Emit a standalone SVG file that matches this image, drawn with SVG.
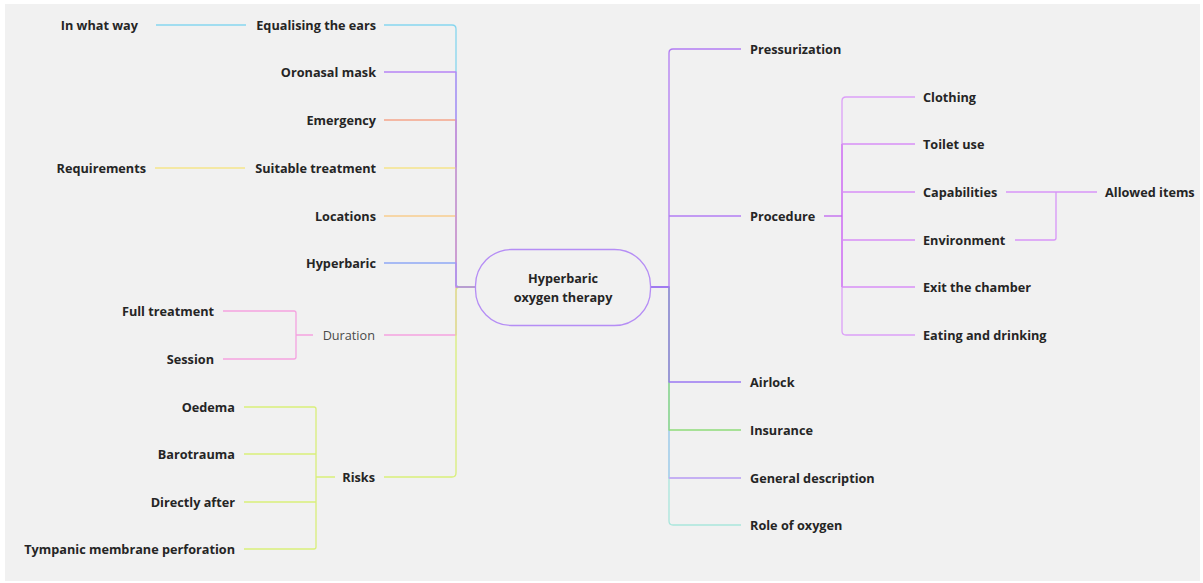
<svg xmlns="http://www.w3.org/2000/svg" width="1203" height="583" viewBox="0 0 1203 583">
<style>
.t{font-family:"Open Sans","Noto Sans","Liberation Sans",sans-serif;font-size:12.7px;font-weight:700;fill:#252525}
.e{text-anchor:end}
.r{font-weight:400;fill:#4a4a4a}
.c{text-anchor:middle}
.l{fill:none;stroke-width:1.3;stroke-linejoin:round}
</style>
<rect x="0" y="0" width="1203" height="583" fill="#ffffff"/>
<rect x="5" y="4" width="1195" height="577" fill="#f1f1f1"/>
<g id="connectors">
  <!-- left main branches -->
  <path class="l" stroke="#86d6ef" d="M475 287 H460 Q456 287 456 283 V29 Q456 25 452 25 H384"/>
  <path class="l" stroke="#f5a58a" d="M475 287 H456 V120 H384"/>
  <path class="l" stroke="#f5e48a" d="M475 287 H456 V168 H384"/>
  <path class="l" stroke="#f7cd8f" d="M475 287 H456 V216 H384"/>
  <path class="l" stroke="#8fa8f5" d="M475 287 H456 V263 H384"/>
  <path class="l" stroke="#b784f5" d="M475 287 H456 V72 H384"/>
  <path class="l" stroke="#f5a3e0" d="M475 287 H456 V335 H384"/>
  <path class="l" stroke="#d9ef7a" d="M475 287 H460 Q456 287 456 291 V473 Q456 477 452 477 H384"/>
  <path class="l" stroke="#a57ef3" d="M456 287 H475"/>
  <!-- left second level -->
  <path class="l" stroke="#86d6ef" d="M246 25 H156"/>
  <path class="l" stroke="#f5e48a" d="M245 168 H155"/>
  <path class="l" stroke="#f5a3e0" d="M313 335 H296 M223 311 H294 Q296 311 296 313 V357 Q296 359 294 359 H223"/>
  <path class="l" stroke="#d9ef7a" d="M335 477 H316 M244 407 H314 Q316 407 316 409 V547 Q316 549 314 549 H244 M244 454 H316 M244 502 H316"/>
  <!-- right main branches -->
  <path class="l" stroke="#a9e6dc" d="M651 287 H669 V521 Q669 525 673 525 H741"/>
  <path class="l" stroke="#a9c8f0" d="M651 287 H669 V478 H741"/>
  <path class="l" stroke="#c9a5f5" d="M669 478 H741"/>
  <path class="l" stroke="#8fdc7a" d="M651 287 H669 V430 H741"/>
  <path class="l" stroke="#9a78f2" d="M651 287 H669 V382 H741"/>
  <path class="l" stroke="#b27cf3" d="M651 287 H669 V53 Q669 49 673 49 H741"/>
  <path class="l" stroke="#b27cf3" d="M669 216 H741"/>
  <path class="l" stroke="#9a78f2" d="M651 287 H669"/>
  <!-- procedure children -->
  <path class="l" stroke="#dca0f8" d="M915 97 H846 Q842 97 842 101 V331 Q842 335 846 335 H915"/>
  <path class="l" stroke="#cf72f2" d="M842 144 V287"/>
  <path class="l" stroke="#d88ef6" d="M842 144 H915 M842 192 H915 M842 240 H915 M842 287 H915"/>
  <path class="l" stroke="#c064f0" stroke-width="2" d="M824 216 H842"/>
  <!-- allowed items -->
  <path class="l" stroke="#d795f7" d="M1006 192 H1097 M1056 192 V238 Q1056 240 1054 240 H1015"/>
</g>
<g id="center">
  <rect x="475.5" y="249.5" width="175" height="76" rx="36" fill="#f1f1f1" stroke="#b58df5" stroke-width="1.3"/>
  <text class="t c" x="563" y="283">Hyperbaric</text>
  <text class="t c" x="563" y="302">oxygen therapy</text>
</g>
<g id="left-nodes">
  <g id="n-equalising"><text class="t e" x="376" y="30">Equalising the ears</text></g>
  <g id="n-inwhatway"><text class="t e" x="138" y="30">In what way</text></g>
  <g id="n-oronasal"><text class="t e" x="376" y="77">Oronasal mask</text></g>
  <g id="n-emergency"><text class="t e" x="376" y="125">Emergency</text></g>
  <g id="n-suitable"><text class="t e" x="376" y="173">Suitable treatment</text></g>
  <g id="n-requirements"><text class="t e" x="146" y="173">Requirements</text></g>
  <g id="n-locations"><text class="t e" x="376" y="221">Locations</text></g>
  <g id="n-hyperbaric"><text class="t e" x="376" y="268">Hyperbaric</text></g>
  <g id="n-duration"><text class="t e r" x="375" y="340">Duration</text></g>
  <g id="n-full"><text class="t e" x="214" y="316">Full treatment</text></g>
  <g id="n-session"><text class="t e" x="214" y="364">Session</text></g>
  <g id="n-risks"><text class="t e" x="375" y="482">Risks</text></g>
  <g id="n-oedema"><text class="t e" x="235" y="412">Oedema</text></g>
  <g id="n-barotrauma"><text class="t e" x="235" y="459">Barotrauma</text></g>
  <g id="n-directly"><text class="t e" x="235" y="507">Directly after</text></g>
  <g id="n-tympanic"><text class="t e" x="235" y="554">Tympanic membrane perforation</text></g>
</g>
<g id="right-nodes">
  <g id="n-pressurization"><text class="t" x="750" y="54">Pressurization</text></g>
  <g id="n-procedure"><text class="t" x="750" y="221">Procedure</text></g>
  <g id="n-clothing"><text class="t" x="923" y="102">Clothing</text></g>
  <g id="n-toilet"><text class="t" x="923" y="149">Toilet use</text></g>
  <g id="n-capabilities"><text class="t" x="923" y="197">Capabilities</text></g>
  <g id="n-environment"><text class="t" x="923" y="245">Environment</text></g>
  <g id="n-exit"><text class="t" x="923" y="292">Exit the chamber</text></g>
  <g id="n-eating"><text class="t" x="923" y="340">Eating and drinking</text></g>
  <g id="n-allowed"><text class="t" x="1105" y="197">Allowed items</text></g>
  <g id="n-airlock"><text class="t" x="750" y="387">Airlock</text></g>
  <g id="n-insurance"><text class="t" x="750" y="435">Insurance</text></g>
  <g id="n-general"><text class="t" x="750" y="483">General description</text></g>
  <g id="n-role"><text class="t" x="750" y="530">Role of oxygen</text></g>
</g>
</svg>
